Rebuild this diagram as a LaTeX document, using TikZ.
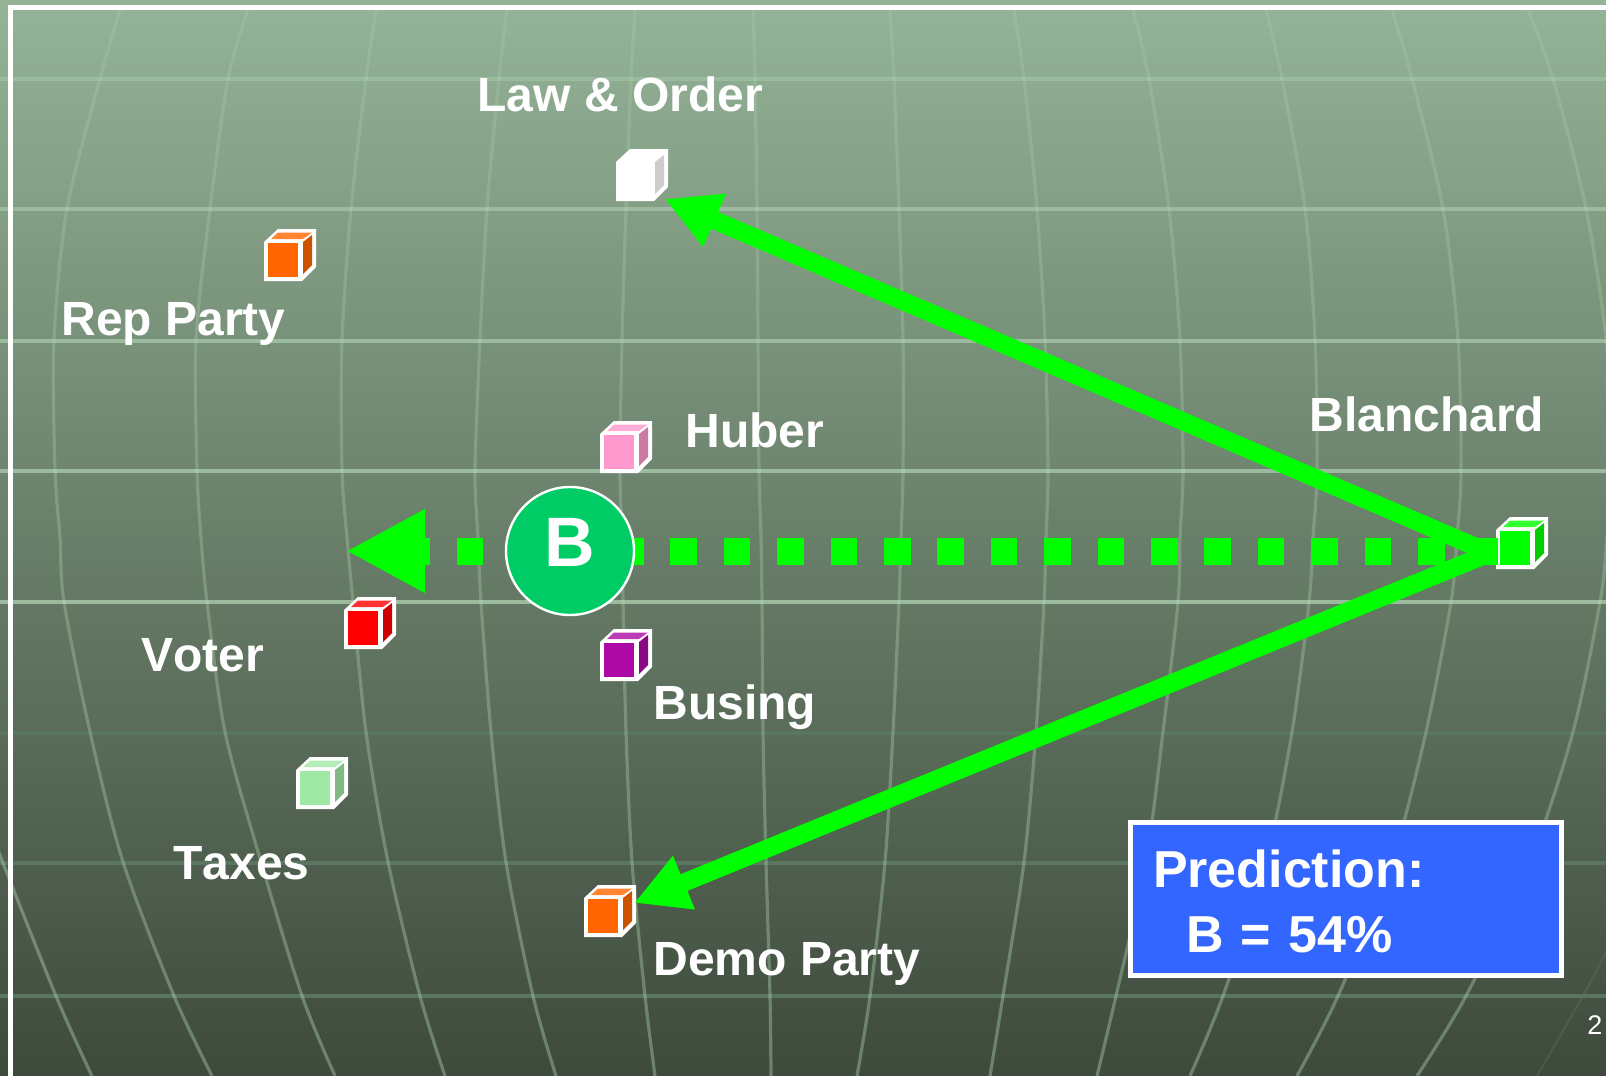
\documentclass[tikz,border=0pt]{standalone}
\usepackage{fontspec}
\setmainfont{Liberation Sans}
\usetikzlibrary{arrows.meta,fadings}
\definecolor{bgtop}{HTML}{94B397}
\definecolor{bgbottom}{HTML}{3E4A3C}
\definecolor{gridlight}{HTML}{9CBB9E}
\definecolor{griddark}{HTML}{5A7560}
\definecolor{gridcurve}{HTML}{C0E8C0}
\definecolor{cubeorange}{HTML}{FF6600}
\definecolor{cubepink}{HTML}{FF99CC}
\definecolor{cubepurple}{HTML}{AD0AA5}
\definecolor{cubemint}{HTML}{9FE8A6}
\definecolor{candidate}{HTML}{00CC66}
\definecolor{predictblue}{HTML}{3366FF}
\tikzfading[name=globefade, top color=transparent!84, bottom color=transparent!64]
\tikzset{
  gridh/.style={line width=1.7pt},
  gridv/.style={gridcurve, path fading=globefade, fit fading=true, line width=1.6pt},
  cubebox/.style={minimum size=26pt, inner sep=0pt, outer sep=0pt},
  label/.style={anchor=base west, inner sep=0pt, text=white, font=\fontsize{24}{28}\selectfont\bfseries},
  solidarrow/.style={-{Triangle[length=27pt,width=27pt]}, green, line width=9pt},
  dotarrow/.style={-{Triangle[length=39.5pt,width=39pt]}, green, line width=13.5pt, dash pattern=on 13.35pt off 13.35pt},
  partyB/.style={circle, draw=white, fill=candidate, line width=1.2pt, minimum size=64pt, inner sep=0pt, text=white, font=\fontsize{35}{35}\selectfont\bfseries},
  predictbox/.style={draw=white, fill=predictblue, line width=2.5pt, text width=193pt, inner xsep=11.25pt, minimum height=76.5pt, align=left, text=white, font=\fontsize{26}{32.5}\selectfont\bfseries}
}
% name, centre, front colour
\newcommand{\votecube}[3]{
  \node[cubebox] (#1) at (#2) {};
  \begin{scope}[shift={(#2)}]
    \fill[white] (-26,-13) -- (-12,-26) -- (26,-26) -- (26,12) -- (12,26) -- (-26,26) -- cycle;
    \fill[#3] (-22,-12) rectangle (8,22);
    \fill[#3!80!white] (-19,-16) -- (-12,-22.5) -- (22,-22.5) -- (13,-16) -- cycle;
    \fill[#3!80!black] (13,-13) -- (22,-20) -- (22,10) -- (13,19) -- cycle;
  \end{scope}
}
\begin{document}
\begin{tikzpicture}[x=0.5pt,y=-0.5pt]
\useasboundingbox (0,0) rectangle (1606,1076);
\clip (0,0) rectangle (1606,1076);
\shade[top color=bgtop, bottom color=bgbottom] (0,0) rectangle (1606,1076);
%background globe
\foreach \y in {79,209,341,471,602} \draw[gridh, gridlight] (0,\y) -- (1606,\y);
\foreach \y in {733,863,996} \draw[gridh, griddark] (0,\y) -- (1606,\y);
\draw[gridcurve, opacity=0.36, line width=1.6pt] plot[smooth] coordinates {(-10,830) (56,996) (92,1076)};
\draw[gridv] plot[smooth] coordinates {(120,10) (100,79) (67,209) (54,340) (55,470) (60,538) (64,602) (90,732) (123,862) (174,996) (212,1076)};
\draw[gridv] plot[smooth] coordinates {(248,10) (228,79) (210,209) (196,340) (197,470) (201,538) (207,602) (225,732) (261,862) (302,996) (335,1076)};
\draw[gridv] plot[smooth] coordinates {(376,10) (366,79) (351,209) (342,340) (342,470) (347,538) (353,602) (366,732) (388,862) (420,996) (445,1076)};
\draw[gridv] plot[smooth] coordinates {(507,10) (499,79) (487,209) (480,340) (475,470) (478,538) (481,602) (491,732) (506,862) (533,996) (556,1076)};
\draw[gridv] plot[smooth] coordinates {(635,10) (631,79) (626,209) (622,340) (620,470) (622,538) (623,602) (626,732) (632,862) (645,996) (655,1076)};
\draw[gridv] plot[smooth] coordinates {(753,10) (755,79) (757,209) (758,340) (759,470) (761,538) (762,602) (763,732) (766,862) (770,996) (771,1076)};
\draw[gridv] plot[smooth] coordinates {(890,10) (894,79) (899,209) (903,340) (903,470) (901,538) (899,602) (893,732) (885,862) (870,996) (857,1076)};
\draw[gridv] plot[smooth] coordinates {(1014,10) (1024,79) (1037,209) (1045,340) (1048,470) (1046,538) (1044,602) (1036,732) (1024,862) (1003,996) (990,1076)};
\draw[gridv] plot[smooth] coordinates {(1133,10) (1149,79) (1169,209) (1180,340) (1183,470) (1180,538) (1178,602) (1163,732) (1146,862) (1116,996) (1097,1076)};
\draw[gridv] plot[smooth] coordinates {(1266,10) (1282,79) (1305,209) (1315,340) (1317,470) (1313,538) (1309,602) (1292,732) (1266,862) (1223,996) (1190,1076)};
\draw[gridv] plot[smooth] coordinates {(1392,10) (1412,79) (1443,209) (1458,340) (1461,470) (1457,538) (1451,602) (1426,732) (1392,862) (1338,996) (1297,1076)};
\draw[gridv] plot[smooth] coordinates {(1528,10) (1553,79) (1586,209) (1606,340) (1612,470) (1607,538) (1600,602) (1573,732) (1530,862) (1466,996) (1417,1076)};
\draw[griddark, line width=1.2pt, opacity=0.35] plot[smooth] coordinates {(1537,1076) (1575,1010) (1606,953)};
\draw[white, line width=2.5pt] (10,1076) -- (10,7) -- (1606,7);
%issues and parties
\votecube{law}{642,175}{white}
\votecube{rep}{290,255}{cubeorange}
\votecube{huber}{626,447}{cubepink}
\votecube{voter}{370,623}{red}
\votecube{busing}{626,655}{cubepurple}
\votecube{taxes}{322,783}{cubemint}
\votecube{demo}{610,911}{cubeorange}
\votecube{blanchard}{1522,543}{green}
\coordinate (fork) at (1490,553);
\coordinate (dotstart) at (1498,551);
\coordinate (dotend) at (346,551);
\draw[dotarrow] (dotstart) -- (dotend);
\draw[solidarrow] (fork) -- ([xshift=-1.5pt,yshift=1pt]law.south east);
\draw[solidarrow] (fork) -- ([xshift=-1pt,yshift=4pt]demo.east);
\node[partyB] (B) at (570,551) {\raisebox{9pt}{B}};
\node[label] (lawlabel) at (477,111.5) {Law \& Order};
\node[label] (replabel) at (61,335.5) {Rep Party};
\node[label] (huberlabel) at (685,447) {Huber};
\node[label] (blanchardlabel) at (1309,431) {Blanchard};
\node[label] (voterlabel) at (141,671) {\addfontfeature{Kerning=Off}Voter};
\node[label] (businglabel) at (653,719) {Busing};
\node[label] (taxeslabel) at (173,879) {\addfontfeature{Kerning=Off}Taxes};
\node[label] (demolabel) at (653,975.5) {Demo Party};
\node[predictbox] (predict) at (1346,899) {\rule{0pt}{21pt}Prediction:\\\hspace*{16.5pt}B = 54\%};
\node[anchor=base west, inner sep=0pt, text=white, font=\fontsize{13.5}{16}\selectfont] (page) at (1587,1034) {2};
\end{tikzpicture}
\end{document}
